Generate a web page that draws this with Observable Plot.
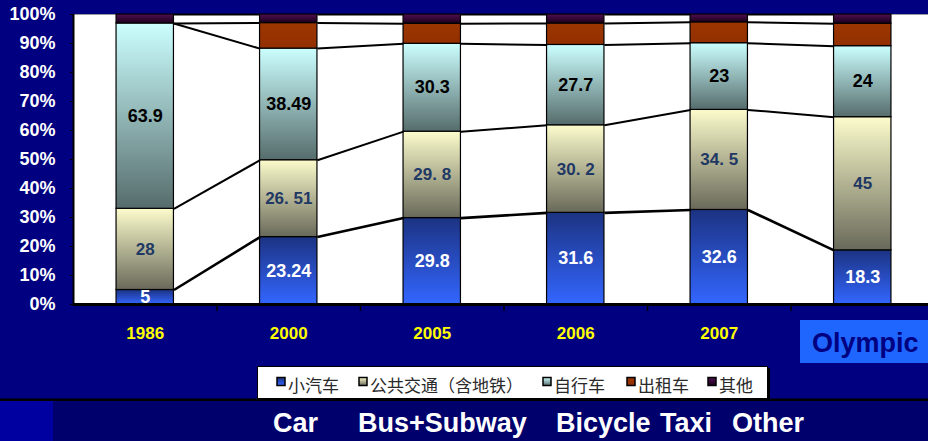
<!DOCTYPE html>
<html>
<head>
<meta charset="utf-8">
<script src="https://cdn.jsdelivr.net/npm/d3@7"></script>
<script src="https://cdn.jsdelivr.net/npm/@observablehq/plot@0.6"></script>
<style>
html, body { margin: 0; padding: 0; background: #000080; overflow: hidden; }
#chart svg { display: block; }
</style>
</head>
<body>
<div id="chart"></div>
<script>
// ---- data ----
const years = ["1986", "2000", "2005", "2006", "2007", "Olympic"];
const car = [5, 23.24, 29.8, 31.6, 32.6, 18.3];
const bus = [28, 26.51, 29.8, 30.2, 34.5, 45];
const bicycle = [63.9, 38.49, 30.3, 27.7, 23, 24];
const taxi = [0, 8.8, 6.9, 7.4, 7.2, 7.6];
const other = [3.1, 2.96, 3.2, 3.1, 2.7, 3.1];
const carLabels = ["5", "23.24", "29.8", "31.6", "32.6", "18.3"];
const busLabels = ["28", "26. 51", "29. 8", "30. 2", "34. 5", "45"];
const bicycleLabels = ["63.9", "38.49", "30.3", "27.7", "23", "24"];
const seriesNames = ["小汽车", "公共交通（含地铁）", "自行车", "出租车", "其他"];
const englishNames = ["Car", "Bus+Subway", "Bicycle", "Taxi", "Other"];
const yTicks = [0, 0.1, 0.2, 0.3, 0.4, 0.5, 0.6, 0.7, 0.8, 0.9, 1];

// ---- derived tables ----
const series = [car, bus, bicycle, taxi, other];
const keys = ["car", "bus", "bike", "taxi", "other"];
const hw = 0.2; // half bar width, in category steps
const stacks = years.map((yr, i) => {
  const vals = series.map(s => s[i]);
  const total = d3.sum(vals);
  let acc = 0;
  return vals.map(v => { const y1 = acc; acc += v / total; return [y1, acc]; });
});
const segs = keys.map((k, j) => years.map((yr, i) => ({i, y1: stacks[i][j][0], y2: stacks[i][j][1]})));
const links = [];
for (let j = 0; j < series.length; j++)
  for (let i = 0; i < years.length - 1; i++)
    links.push({x1: i + hw, x2: i + 1 - hw, y1: stacks[i][j][1], y2: stacks[i + 1][j][1], j});
const labelRows = (labels, j) => labels.map((t, i) => ({i, t, y: (stacks[i][j][0] + stacks[i][j][1]) / 2}));

const FONT = "'Liberation Sans', Arial, Helvetica, sans-serif";

const plot = Plot.plot({
  width: 928,
  height: 441,
  marginLeft: 73,
  marginRight: 0,
  marginTop: 14,
  marginBottom: 137,
  style: {background: "transparent", color: "white", fontFamily: FONT, fontWeight: "bold", fontSize: "18px", overflow: "visible"},
  x: {type: "linear", domain: [-0.5, 5.5], range: [73, 934], axis: null},
  y: {domain: [0, 1], ticks: yTicks, tickFormat: d3.format(".0%"), tickSize: 3, tickPadding: 15, label: null},
  marks: [
    Plot.frame({fill: "white", stroke: "#999"}),
    ...keys.map((k, j) => Plot.rect(segs[j], {
      x1: d => d.i - hw, x2: d => d.i + hw, y1: "y1", y2: "y2",
      fill: `url(#g-${k})`, stroke: "black", strokeWidth: 1.2
    })),
    Plot.link(links.filter(d => d.j === 0), {x1: "x1", y1: "y1", x2: "x2", y2: "y2", stroke: "black", strokeWidth: 2.6}),
    Plot.link(links.filter(d => d.j !== 0), {x1: "x1", y1: "y1", x2: "x2", y2: "y2", stroke: "black", strokeWidth: 2}),
    Plot.text(labelRows(carLabels, 0), {x: "i", y: "y", text: "t", fill: "white", fontSize: 18, fontWeight: "bold"}),
    Plot.text(labelRows(busLabels, 1), {x: "i", y: "y", text: "t", fill: "#1f3864", fontSize: 17, fontWeight: "bold"}),
    Plot.text(labelRows(bicycleLabels, 2), {x: "i", y: "y", text: "t", fill: "black", fontSize: 18, fontWeight: "bold"}),
    Plot.ruleX(d3.range(years.length - 1), {x: i => i + 0.5, y1: 0, y2: -0.024, stroke: "black", strokeWidth: 1.5}),
    Plot.ruleY([0], {stroke: "black", strokeWidth: 3}),
    Plot.ruleX([-0.5], {stroke: "black", strokeWidth: 2}),
    Plot.text(years.slice(0, 5), {x: (d, i) => i, frameAnchor: "bottom", dy: 34, fill: "#ffff00", fontSize: 17, fontWeight: "bold"})
  ]
});

const svg = d3.select(plot);
// axis ticks black
svg.selectAll('[aria-label^="y-axis"] path, [aria-label^="y-axis"] line').attr("stroke", "black");
svg.selectAll('[aria-label="y-axis tick"]').attr("stroke", "black");

// gradients
const defs = svg.insert("defs", ":first-child");
const grads = {
  car: ["#1c3382", "#3366ff"],
  bus: ["#fcfccc", "#69695a"],
  bike: ["#ccffff", "#566c6c"],
  taxi: ["#9c3600", "#933000"],
  other: ["#520f52", "#1a001a"]
};
for (const [k, [c0, c1]] of Object.entries(grads)) {
  const g = defs.append("linearGradient").attr("id", `g-${k}`).attr("x1", 0).attr("y1", 0).attr("x2", 0).attr("y2", 1);
  g.append("stop").attr("offset", "0%").attr("stop-color", c0);
  g.append("stop").attr("offset", "100%").attr("stop-color", c1);
}

const deco = svg.append("g").attr("text-anchor", "start");

// Olympic box label
deco.append("rect").attr("x", 800).attr("y", 320).attr("width", 128).attr("height", 43).attr("fill", "#1f66ff");
deco.append("text").attr("x", 812).attr("y", 352).attr("fill", "#000080").attr("text-anchor", "start")
  .attr("font-family", FONT).attr("font-weight", "bold").attr("font-size", 27).text(years[5]);

// bottom band
deco.append("rect").attr("x", 0).attr("y", 400).attr("width", 928).attr("height", 41).attr("fill", "#00006c");
deco.append("rect").attr("x", 0).attr("y", 400).attr("width", 53).attr("height", 41).attr("fill", "#0000a0");
deco.append("rect").attr("x", 0).attr("y", 398.5).attr("width", 928).attr("height", 2.5).attr("fill", "black");

// legend
deco.append("rect").attr("x", 259).attr("y", 368).attr("width", 511).attr("height", 33).attr("fill", "black");
deco.append("rect").attr("x", 257.5).attr("y", 366.5).attr("width", 510).attr("height", 32).attr("fill", "white").attr("stroke", "black").attr("stroke-width", 1);
const swatchX = [277, 359, 543, 627, 708];
seriesNames.forEach((name, j) => {
  const sx = swatchX[j];
  deco.append("rect").attr("x", sx).attr("y", 377.5).attr("width", 8).attr("height", 8)
    .attr("fill", `url(#g-${keys[j]})`).attr("stroke", "black").attr("stroke-width", 1.5);
  deco.append("text").attr("x", sx + 11).attr("y", 391.5).attr("fill", "#2a2a2a").attr("text-anchor", "start")
    .attr("font-family", "'Noto Sans CJK SC', sans-serif").attr("font-size", 17).attr("font-weight", "normal").text(name);
});

// english names
const engX = [273, 358, 556, 660, 732];
englishNames.forEach((name, j) => {
  deco.append("text").attr("x", engX[j]).attr("y", 432).attr("fill", "white").attr("text-anchor", "start")
    .attr("font-family", FONT).attr("font-weight", "bold").attr("font-size", 27).text(name);
});

document.getElementById("chart").append(plot);
</script>
</body>
</html>
